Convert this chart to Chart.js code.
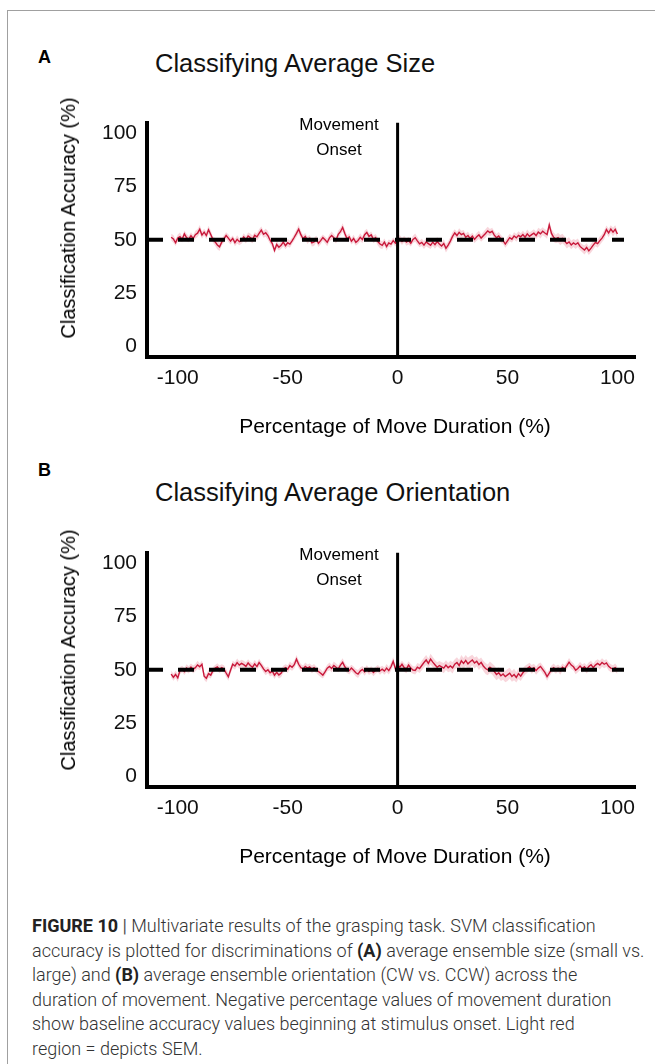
<!DOCTYPE html>
<html><head><meta charset="utf-8">
<script src="https://cdn.jsdelivr.net/npm/chart.js@4.4.1/dist/chart.umd.min.js"></script>
<style>
html,body{margin:0;padding:0;background:#fff;}
body{width:655px;height:1064px;position:relative;overflow:hidden;font-family:"Liberation Sans",Arial,sans-serif;color:#000;}
.fl{position:absolute;background:#a0a0a0;}
.abs{position:absolute;white-space:nowrap;line-height:1;}
.panel{font-weight:bold;font-size:18px;}
.title{font-size:25.5px;color:#111;}
.ann{font-size:17px;text-align:center;width:120px;line-height:25px;}
.ytitle{font-size:20px;transform:translate(-50%,-50%) rotate(-90deg);}
.xtitle{font-size:21px;transform:translate(-50%,-50%);}
.cw{position:absolute;left:0;width:655px;height:340px;}
#cap{position:absolute;left:32px;top:914px;font-family:Roboto,"Liberation Sans",sans-serif;font-weight:300;font-size:18px;line-height:24.5px;color:#333;white-space:nowrap;}
#cap b{font-weight:700;color:#222;}
#cap .sep{color:#555;font-weight:400;}
</style>
</head><body>
<div class="fl" style="left:7px;top:10px;width:648px;height:1px"></div>
<div class="fl" style="left:7px;top:10px;width:1px;height:1054px"></div>

<div class="abs panel" style="left:38px;top:48px">A</div>
<div class="abs title" style="left:155px;top:51px">Classifying Average Size</div>
<div class="cw" style="top:100px"><canvas id="cA" width="655" height="340"></canvas></div>
<div class="abs ann" style="left:279px;top:112px">Movement<br>Onset</div>
<div class="abs ytitle" style="left:68px;top:218px">Classification Accuracy (%)</div>
<div class="abs xtitle" style="left:395px;top:425px">Percentage of Move Duration (%)</div>

<div class="abs panel" style="left:38px;top:461px">B</div>
<div class="abs title" style="left:155px;top:480px">Classifying Average Orientation</div>
<div class="cw" style="top:530px"><canvas id="cB" width="655" height="340"></canvas></div>
<div class="abs ann" style="left:279px;top:542px">Movement<br>Onset</div>
<div class="abs ytitle" style="left:68px;top:650px">Classification Accuracy (%)</div>
<div class="abs xtitle" style="left:395px;top:855px">Percentage of Move Duration (%)</div>

<div id="cap"><b>FIGURE 10</b> <span class="sep">|</span> Multivariate results of the grasping task. SVM classification<br>accuracy is plotted for discriminations of <b>(A)</b> average ensemble size (small vs.<br>large) and <b>(B)</b> average ensemble orientation (CW vs. CCW) across the<br>duration of movement. Negative percentage values of movement duration<br>show baseline accuracy values beginning at stimulus onset. Light red<br>region = depicts SEM.</div>

<script>
// x positions: percentage of move duration, first sample at -103, step 1
const START_PCT = -103;
const xTickValues = [-100, -50, 0, 50, 100];
const yTickValues = [0, 25, 50, 75, 100];
const chanceLevel = 50;
const onsetPct = 0;

// Panel A: Classifying Average Size (mean accuracy %)
const sizeMean = [
51.2,50.4,48.6,50.8,51.5,50.2,52.8,51.0,50.3,51.9,
50.6,52.4,53.1,55.0,52.2,53.6,52.0,54.7,52.5,50.1,
49.0,47.6,46.7,48.9,50.4,52.0,50.8,49.4,50.6,48.7,
50.2,49.1,49.7,51.3,50.0,51.8,51.0,50.2,52.1,51.4,
53.0,54.5,52.6,53.3,52.0,49.8,48.2,45.0,47.8,46.5,
47.4,48.9,47.2,48.6,48.0,49.5,51.2,53.0,55.0,52.4,
50.5,51.6,49.8,50.7,48.6,49.0,50.3,48.4,49.6,51.0,
50.0,48.8,50.9,52.0,51.0,49.8,52.6,53.8,55.8,53.0,
50.5,51.4,49.3,50.6,48.8,49.7,51.2,50.1,52.4,53.5,
51.6,52.3,50.2,51.0,49.2,48.0,47.4,48.9,46.8,48.5,
48.0,49.6,48.4,49.7,50.5,49.2,50.3,48.9,49.6,48.4,
50.2,51.0,49.5,48.1,48.8,47.5,49.0,48.2,47.4,48.9,
47.7,49.2,48.0,47.1,48.3,46.0,47.5,49.4,51.6,53.2,
52.0,53.5,52.4,53.0,51.2,52.0,50.6,51.7,50.2,51.4,
52.3,50.8,51.9,53.0,54.2,53.4,54.0,52.2,51.0,51.8,
50.4,49.6,48.0,49.5,51.0,50.3,51.8,50.9,52.1,51.4,
52.5,51.2,52.8,51.6,52.4,53.1,52.0,53.6,52.8,54.0,
53.2,52.5,57.0,53.0,51.2,50.4,51.0,49.8,50.6,49.4,
48.2,49.0,47.6,48.5,47.8,48.6,46.9,46.0,45.2,46.4,
44.8,46.1,47.5,48.8,48.2,49.6,50.8,52.4,54.8,53.2,
55.0,53.6,54.9,52.7];
const sizeSem = [
1.6,1.8,1.5,1.7,1.9,1.4,1.6,1.8,1.5,1.7,
1.6,1.9,1.8,2.0,1.7,1.6,1.8,1.9,1.7,1.5,
1.8,2.0,1.9,1.6,1.7,1.5,1.8,1.6,1.4,1.7,
1.9,1.6,1.5,1.8,1.7,1.6,1.9,1.8,1.5,1.7,
2.0,1.8,1.6,1.9,2.1,1.8,1.7,1.6,1.8,1.5,
1.7,1.9,1.6,1.8,1.7,1.5,1.6,1.8,2.0,1.9,
1.7,1.6,1.8,1.5,1.7,1.9,1.6,1.8,1.7,1.5,
1.6,1.8,1.7,1.9,1.6,1.5,1.8,1.7,2.0,1.8,
1.6,1.7,1.5,1.8,1.6,1.7,1.9,1.6,1.8,1.7,
1.5,1.6,1.8,1.7,1.9,2.0,1.8,1.7,1.9,1.6,
1.7,1.5,1.6,1.8,1.7,1.6,1.5,1.7,1.8,1.6,
1.7,1.9,1.8,1.6,1.7,1.8,2.0,1.9,1.7,1.8,
1.9,2.1,1.8,1.7,1.9,2.0,1.8,1.9,2.1,1.8,
1.7,1.9,1.8,1.6,1.7,1.9,1.8,1.6,1.7,1.8,
1.9,1.7,1.8,2.0,1.9,1.7,1.6,1.8,1.7,1.9,
1.8,1.6,1.7,1.9,1.8,1.6,1.7,1.8,1.9,1.7,
1.8,1.9,2.0,1.8,1.7,1.9,1.8,2.0,2.2,1.9,
1.8,2.0,1.9,2.1,2.2,2.0,2.3,2.4,2.2,2.1,
2.3,2.2,2.0,1.9,2.1,2.0,1.8,1.9,2.1,2.0,
1.9,2.1,2.0,1.8,1.9,2.0,1.8,2.1,1.9,2.0,
1.8,2.0,1.9,1.7];

// Panel B: Classifying Average Orientation (mean accuracy %)
const orientMean = [
48.0,46.5,47.8,46.2,49.6,50.4,49.2,50.8,50.0,51.3,
50.2,51.0,52.3,51.4,52.6,47.0,46.0,48.2,47.5,49.6,
50.8,51.4,50.2,51.0,50.4,48.5,46.7,49.8,52.6,51.8,
53.4,52.2,53.0,52.4,51.6,53.2,52.0,51.2,52.8,51.5,
53.4,52.1,50.4,49.2,50.0,48.6,49.4,47.5,48.8,47.6,
48.4,50.2,51.0,50.3,52.0,51.2,52.4,55.0,52.6,51.0,
50.4,51.6,50.8,51.4,50.2,51.0,50.0,49.2,48.4,47.5,
49.0,50.8,51.6,50.6,52.0,51.2,50.4,52.2,53.5,51.4,
50.2,49.6,50.8,49.8,48.6,48.0,49.4,50.2,49.0,50.4,
49.2,50.0,48.8,49.8,50.6,49.5,50.3,49.4,50.8,49.6,
51.4,54.0,50.5,52.4,51.2,52.6,51.0,50.4,52.2,50.8,
49.9,49.7,51.2,50.6,52.0,53.4,54.6,53.0,55.0,53.6,
52.4,51.2,52.0,51.4,50.8,52.2,51.0,51.8,50.9,52.6,
53.4,52.0,54.2,53.0,54.4,52.8,53.8,54.6,53.2,54.0,
52.4,53.5,51.8,50.6,50.0,51.2,50.4,49.2,47.8,48.6,
47.2,48.0,46.8,47.6,48.4,46.9,47.8,46.4,48.2,47.0,
48.6,49.8,50.6,51.4,50.2,51.0,49.6,50.8,51.6,50.2,
48.8,46.8,48.4,50.2,51.0,50.0,50.8,49.6,51.2,50.4,
52.0,53.6,52.2,51.4,49.8,50.6,51.8,50.6,51.4,50.2,
51.6,52.4,51.0,52.2,53.0,52.2,53.4,52.6,53.2,51.6,
50.8,50.4,51.0,49.8];
const orientSem = [
1.7,1.6,1.8,1.9,1.7,1.5,1.6,1.8,1.7,1.6,
1.8,1.7,1.9,1.6,1.8,1.7,1.9,1.8,1.6,1.7,
1.5,1.7,1.8,1.6,1.7,1.9,1.8,1.6,1.7,1.8,
1.9,1.8,1.7,1.9,2.0,1.8,1.7,1.9,1.8,1.7,
1.8,1.6,1.7,1.8,1.6,1.7,1.9,1.8,1.6,1.7,
1.8,1.7,1.6,1.8,1.9,1.7,1.8,2.0,1.9,1.7,
1.6,1.8,1.7,1.6,1.8,1.7,1.5,1.7,1.8,1.6,
1.7,1.6,1.8,1.7,1.9,1.8,1.6,1.7,1.9,1.8,
1.7,1.8,1.6,1.7,1.8,1.9,1.7,1.6,1.8,1.7,
1.6,1.7,1.8,1.6,1.7,1.8,1.6,1.7,1.9,1.8,
1.9,2.0,1.8,1.9,1.8,1.7,1.9,2.0,1.8,1.9,
1.8,1.9,2.0,2.1,2.2,2.3,2.4,2.3,2.5,2.4,
2.2,2.3,2.1,2.2,2.4,2.3,2.2,2.5,2.6,2.4,
2.5,2.6,2.7,2.5,2.6,2.8,2.7,2.5,2.6,2.4,
2.5,2.3,2.4,2.6,2.5,2.7,2.6,2.8,2.7,2.6,
2.5,2.7,2.6,2.8,2.6,2.5,2.7,2.4,2.5,2.3,
2.2,2.1,2.0,1.9,2.0,1.8,1.9,2.0,1.8,1.9,
1.8,1.9,1.7,1.8,1.9,1.8,1.7,1.9,1.8,1.7,
1.8,1.9,1.8,1.7,1.9,1.8,2.0,1.9,1.8,1.9,
2.0,1.9,1.8,2.0,1.9,2.1,2.0,1.9,1.8,1.9,
1.8,1.7,1.9,1.8];

const RED = '#c8183a';
const BAND = 'rgba(232,120,140,0.30)';

function buildChart(id, mean, sem){
  const xs = mean.map((_, i) => START_PCT + i);
  const upper = mean.map((v, i) => ({x: xs[i], y: v + (sem[i] ?? 1.8)}));
  const lower = mean.map((v, i) => ({x: xs[i], y: v - (sem[i] ?? 1.8)}));
  const line = mean.map((v, i) => ({x: xs[i], y: v}));
  const tickFont = {family: '"Liberation Sans", Arial, sans-serif', size: 21};
  return new Chart(document.getElementById(id), {
    type: 'line',
    data: {datasets: [
      {data: upper, borderWidth: 0, pointRadius: 0, fill: '+1', backgroundColor: BAND, order: 4, tension: 0},
      {data: lower, borderWidth: 0, pointRadius: 0, fill: false, order: 4, tension: 0},
      {data: line, borderColor: RED, borderWidth: 1.4, pointRadius: 0, fill: false, order: 3, tension: 0},
      {data: [{x: -114, y: chanceLevel}, {x: 103, y: chanceLevel}], borderColor: '#000', borderWidth: 4, borderDash: [16, 15], pointRadius: 0, fill: false, order: 2},
      {data: [{x: onsetPct, y: -5}, {x: onsetPct, y: 105}], borderColor: '#000', borderWidth: 3, pointRadius: 0, fill: false, order: 1}
    ]},
    options: {
      responsive: false, animation: false, parsing: true,
      layout: {padding: {top: 15, right: 20, left: 0, bottom: 0}},
      plugins: {legend: {display: false}, tooltip: {enabled: false}},
      scales: {
        x: {type: 'linear', min: -114, max: 108,
            afterBuildTicks: s => { s.ticks = xTickValues.map(v => ({value: v})); },
            afterFit: s => { s.height = 83; },
            grid: {display: false, drawTicks: false},
            border: {display: true, color: '#000', width: 4},
            ticks: {color: '#111', font: tickFont, padding: 9, maxRotation: 0, autoSkip: false}},
        y: {type: 'linear', min: -5, max: 105,
            afterBuildTicks: s => { s.ticks = yTickValues.map(v => ({value: v})); },
            afterFit: s => { s.width = 147; },
            grid: {display: false, drawTicks: false},
            border: {display: true, color: '#000', width: 4},
            ticks: {color: '#111', font: tickFont, padding: 10, autoSkip: false}}
      }
    }
  });
}
buildChart('cA', sizeMean, sizeSem);
buildChart('cB', orientMean, orientSem);
</script>
</body></html>
